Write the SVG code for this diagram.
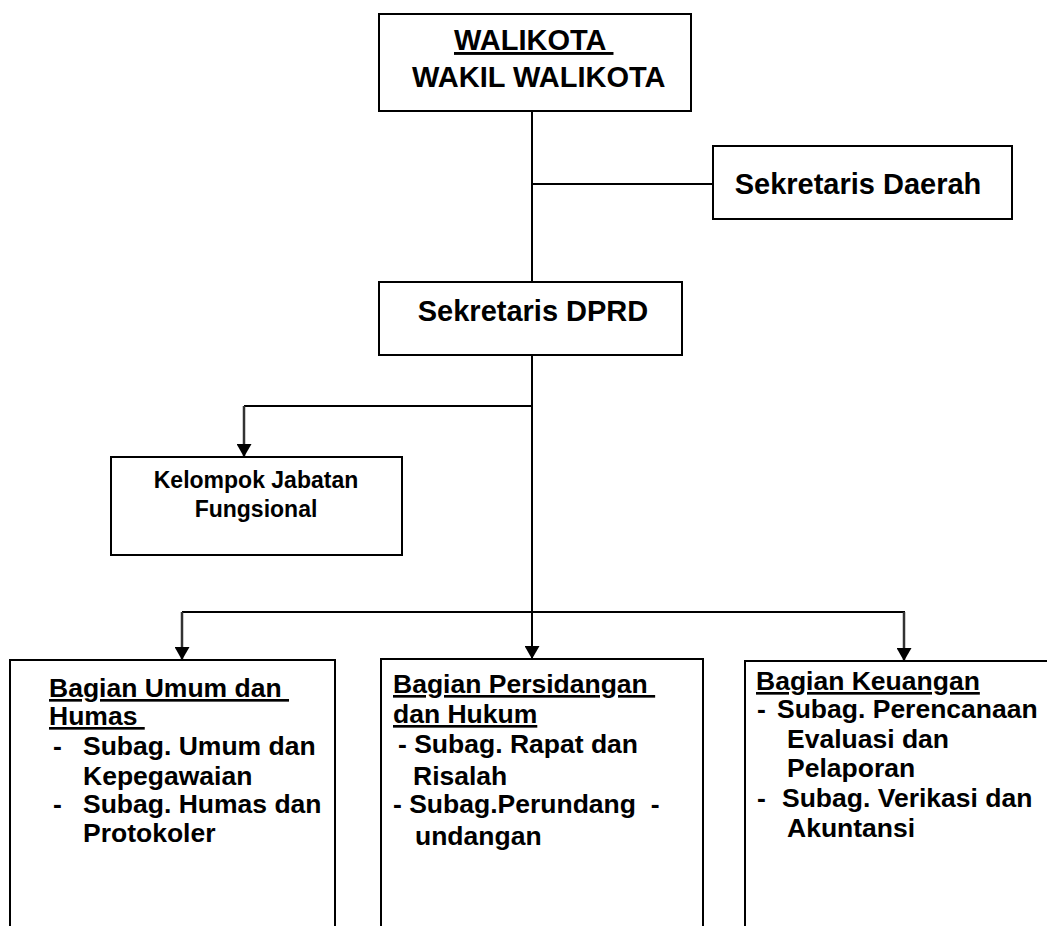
<svg xmlns="http://www.w3.org/2000/svg" width="1047" height="926" viewBox="0 0 1047 926">
<defs>
<style>
.box{fill:#fff;stroke:#000;stroke-width:2}
.ln{fill:none;stroke:#000;stroke-width:2}
.ln2{fill:none;stroke:#333;stroke-width:2.5}
text{font-family:"Liberation Sans",Arial,sans-serif;font-weight:bold;fill:#000;white-space:pre}
.t1{font-size:29px}
.t2{font-size:23px}
.t3{font-size:26.5px}
.u{text-decoration:underline}
</style>
<marker id="ah" viewBox="0 0 13 15" refX="13" refY="7.5" markerWidth="13" markerHeight="15" markerUnits="userSpaceOnUse" orient="auto">
<path d="M0,0 L13,7.5 L0,15 z" fill="#000"/>
</marker>
</defs>
<rect width="1047" height="926" fill="#fff"/>

<g id="connectors">
<line class="ln" x1="532" y1="111" x2="532" y2="282"/>
<line class="ln" x1="532" y1="184" x2="713" y2="184"/>
<line class="ln" x1="532" y1="355" x2="532" y2="659" marker-end="url(#ah)"/>
<line class="ln" x1="244" y1="406" x2="532" y2="406"/>
<line class="ln2" x1="244" y1="406" x2="244" y2="457" marker-end="url(#ah)"/>
<line class="ln" x1="182" y1="612" x2="905" y2="612"/>
<line class="ln2" x1="182" y1="612" x2="182" y2="660" marker-end="url(#ah)"/>
<line class="ln2" x1="904" y1="612" x2="904" y2="661" marker-end="url(#ah)"/>
</g>

<g id="walikota">
<rect class="box" x="379" y="14" width="312" height="97"/>
<text class="t1" x="454" y="50"><tspan class="u">WALIKOTA </tspan></text>
<text class="t1" x="412" y="87">WAKIL WALIKOTA</text>
</g>

<g id="sekda">
<rect class="box" x="713" y="146" width="299" height="73"/>
<text class="t1" x="858" y="194" text-anchor="middle">Sekretaris Daerah</text>
</g>

<g id="sekdprd">
<rect class="box" x="379" y="282" width="303" height="73"/>
<text class="t1" x="533" y="321" text-anchor="middle">Sekretaris DPRD</text>
</g>

<g id="kelompok">
<rect class="box" x="111" y="457" width="291" height="98"/>
<text class="t2" x="256" y="488" text-anchor="middle">Kelompok Jabatan</text>
<text class="t2" x="256" y="517" text-anchor="middle">Fungsional</text>
</g>

<g id="umum">
<rect class="box" x="10" y="660" width="325" height="280"/>
<text class="t3" x="49" y="697"><tspan class="u">Bagian Umum dan </tspan></text>
<text class="t3" x="49" y="725"><tspan class="u">Humas </tspan></text>
<text class="t3" x="53" y="755">-</text>
<text class="t3" x="83" y="755">Subag. Umum dan</text>
<text class="t3" x="83" y="785">Kepegawaian</text>
<text class="t3" x="53" y="813">-</text>
<text class="t3" x="83" y="813">Subag. Humas dan</text>
<text class="t3" x="83" y="842">Protokoler</text>
</g>

<g id="persidangan">
<rect class="box" x="381" y="659" width="322" height="280"/>
<text class="t3" x="393" y="693"><tspan class="u">Bagian Persidangan </tspan></text>
<text class="t3" x="393" y="723"><tspan class="u">dan Hukum</tspan></text>
<text class="t3" x="398" y="753">- Subag. Rapat dan</text>
<text class="t3" x="413" y="785">Risalah</text>
<text class="t3" x="393" y="813">- Subag.Perundang  -</text>
<text class="t3" x="415" y="845">undangan</text>
</g>

<g id="keuangan">
<rect class="box" x="745" y="661" width="320" height="280"/>
<text class="t3" x="756" y="690"><tspan class="u">Bagian Keuangan</tspan></text>
<text class="t3" x="757" y="718">-</text>
<text class="t3" x="777" y="718">Subag. Perencanaan</text>
<text class="t3" x="787" y="748">Evaluasi dan</text>
<text class="t3" x="787" y="777">Pelaporan</text>
<text class="t3" x="757" y="807">-</text>
<text class="t3" x="782" y="807">Subag. Verikasi dan</text>
<text class="t3" x="787" y="837">Akuntansi</text>
</g>
</svg>
